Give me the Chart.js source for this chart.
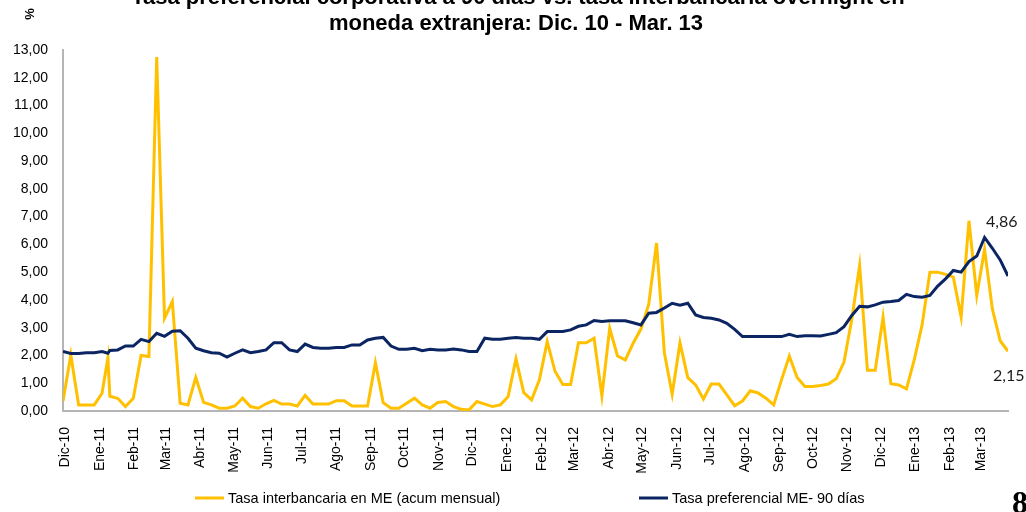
<!DOCTYPE html>
<html>
<head>
<meta charset="utf-8">
<script src="https://cdn.jsdelivr.net/npm/chart.js@4.4.1/dist/chart.umd.min.js"></script>
<style>
  html, body { margin: 0; padding: 0; background: #fff; overflow: hidden; }
  #wrap { position: relative; width: 1026px; height: 512px; }
</style>
</head>
<body>
<div id="wrap"><canvas id="grafico" width="1026" height="512"></canvas></div>
<script>
// --- Datos (semanales, dic-2010 a mar-2013) ---
const titulo1 = "Tasa preferencial corporativa a 90 días vs. tasa interbancaria overnight en";
const titulo2 = "moneda extranjera: Dic. 10 - Mar. 13";

const meses = ["Dic-10","Ene-11","Feb-11","Mar-11","Abr-11","May-11","Jun-11","Jul-11","Ago-11","Sep-11",
  "Oct-11","Nov-11","Dic-11","Ene-12","Feb-12","Mar-12","Abr-12","May-12","Jun-12","Jul-12",
  "Ago-12","Sep-12","Oct-12","Nov-12","Dic-12","Ene-13","Feb-13","Mar-13"];

// indice de semana de cada observacion (hay un dato extra a mitad de la 6a semana)
const semanas = [];
for (let i = 0; i <= 121; i++) {
  semanas.push(i);
  if (i === 5) semanas.push(5.75);
}

const tasaInterbancaria = [
  0.35, 2.02, 0.22, 0.22, 0.22, 0.64, 1.92, 0.53, 0.46, 0.16,
  0.46, 2.00, 1.96, 12.75, 3.34, 3.94, 0.28, 0.22, 1.21, 0.31,
  0.22, 0.10, 0.10, 0.18, 0.46, 0.16, 0.10, 0.26, 0.38, 0.25,
  0.25, 0.18, 0.56, 0.25, 0.25, 0.25, 0.37, 0.37, 0.18, 0.18,
  0.18, 1.74, 0.30, 0.10, 0.10, 0.28, 0.46, 0.22, 0.10, 0.31,
  0.34, 0.16, 0.06, 0.04, 0.34, 0.25, 0.16, 0.22, 0.52, 1.88,
  0.66, 0.40, 1.12, 2.50, 1.43, 0.95, 0.95, 2.46, 2.46, 2.62,
  0.54, 2.98, 1.98, 1.84, 2.44, 2.95, 3.85, 6.05, 2.10, 0.60,
  2.45, 1.20, 0.94, 0.43, 0.97, 0.97, 0.58, 0.19, 0.36, 0.73,
  0.65, 0.46, 0.22, 1.12, 1.98, 1.21, 0.88, 0.88, 0.92, 0.97,
  1.16, 1.76, 3.30, 5.24, 1.47, 1.47, 3.38, 0.98, 0.94, 0.80,
  1.85, 3.10, 5.00, 5.00, 4.92, 4.82, 3.38, 6.85, 4.16, 5.82,
  3.67, 2.53, 2.15
];

const tasaPreferencial = [
  2.14, 2.07, 2.07, 2.10, 2.10, 2.14, 2.08, 2.18, 2.20, 2.34,
  2.34, 2.58, 2.50, 2.80, 2.69, 2.87, 2.89, 2.62, 2.26, 2.17,
  2.10, 2.08, 1.94, 2.08, 2.20, 2.10, 2.14, 2.20, 2.46, 2.46,
  2.20, 2.14, 2.41, 2.29, 2.26, 2.26, 2.29, 2.29, 2.38, 2.38,
  2.56, 2.62, 2.65, 2.34, 2.22, 2.22, 2.26, 2.17, 2.22, 2.20,
  2.20, 2.23, 2.20, 2.14, 2.14, 2.62, 2.58, 2.58, 2.62, 2.65,
  2.62, 2.62, 2.58, 2.86, 2.86, 2.86, 2.92, 3.05, 3.10, 3.26,
  3.22, 3.25, 3.25, 3.25, 3.18, 3.10, 3.52, 3.55, 3.71, 3.88,
  3.81, 3.88, 3.46, 3.37, 3.34, 3.28, 3.16, 2.94, 2.68, 2.68,
  2.68, 2.68, 2.68, 2.68, 2.76, 2.68, 2.71, 2.71, 2.70, 2.76,
  2.82, 3.04, 3.44, 3.77, 3.75, 3.82, 3.92, 3.94, 3.98, 4.20,
  4.12, 4.10, 4.16, 4.50, 4.76, 5.06, 5.00, 5.38, 5.58, 6.25,
  5.86, 5.44, 4.86
];

const nombreInter = "Tasa interbancaria en ME (acum mensual)";
const nombrePref = "Tasa preferencial ME- 90 días";
const AMARILLO = "#FFC000";
const AZUL = "#0B2563";

// posicion de cada etiqueta de mes en unidades de semana
function posMes(i) {
  const dias = (Date.UTC(2010, 11 + i, 1) - Date.UTC(2010, 11, 1)) / 864e5;
  return 0.3 + dias / 7;
}

const aPuntos = serie => semanas.map((x, i) => ({ x: x, y: serie[i] }));

// --- Textos extra: titulo, %, leyenda, etiquetas finales, n° de pagina ---
const decoracion = {
  id: "decoracion",
  afterDraw(chart) {
    const ctx = chart.ctx;
    const xs = chart.scales.x, ys = chart.scales.y;
    ctx.save();
    ctx.fillStyle = "#000";
    ctx.textAlign = "center";
    ctx.textBaseline = "alphabetic";
    ctx.font = 'bold 22px "Liberation Sans", Arial, sans-serif';
    ctx.fillText(titulo1, 518, 4);
    ctx.fillText(titulo2, 516, 30);

    // "%" vertical
    ctx.save();
    ctx.translate(30, 14);
    ctx.rotate(-Math.PI / 2);
    ctx.font = 'bold 13px "Liberation Sans", Arial, sans-serif';
    ctx.textBaseline = "middle";
    ctx.fillText("%", 0, 0);
    ctx.restore();

    // leyenda
    ctx.lineWidth = 3;
    ctx.strokeStyle = AMARILLO;
    ctx.beginPath(); ctx.moveTo(195, 498); ctx.lineTo(224, 498); ctx.stroke();
    ctx.strokeStyle = AZUL;
    ctx.beginPath(); ctx.moveTo(639, 498); ctx.lineTo(668, 498); ctx.stroke();
    ctx.font = '14.5px "Liberation Sans", Arial, sans-serif';
    ctx.textAlign = "left";
    ctx.textBaseline = "middle";
    ctx.fillStyle = "#000";
    ctx.fillText(nombreInter, 228, 499);
    ctx.fillText(nombrePref, 672, 499);

    // etiquetas de los ultimos valores
    const ult = semanas.length - 1;
    const xUlt = xs.getPixelForValue(semanas[ult]);
    ctx.font = '16px Lato, "Open Sans", sans-serif';
    ctx.fillStyle = "#1a1a1a";
    ctx.fillText(String(tasaPreferencial[ult].toFixed(2)).replace(".", ","), xUlt - 22, ys.getPixelForValue(6.8));
    ctx.fillText(String(tasaInterbancaria[ult].toFixed(2)).replace(".", ","), xUlt - 15, ys.getPixelForValue(1.25));

    // numero de pagina (cortado)
    ctx.font = 'bold 32px "Liberation Serif", serif';
    ctx.textBaseline = "alphabetic";
    ctx.fillStyle = "#000";
    ctx.fillText("8", 1012, 513);
    ctx.restore();
  }
};

const ctx = document.getElementById("grafico").getContext("2d");
const chart = new Chart(ctx, {
  type: "line",
  data: {
    datasets: [
      {
        label: nombreInter,
        data: aPuntos(tasaInterbancaria),
        borderColor: AMARILLO,
        borderWidth: 3,
        pointRadius: 0,
        tension: 0,
        order: 2
      },
      {
        label: nombrePref,
        data: aPuntos(tasaPreferencial),
        borderColor: AZUL,
        borderWidth: 3,
        pointRadius: 0,
        tension: 0,
        order: 1
      }
    ]
  },
  options: {
    responsive: false,
    animation: false,
    layout: { padding: { top: 50, right: 18, left: 0, bottom: 0 } },
    plugins: {
      legend: { display: false },
      title: { display: false },
      tooltip: { enabled: false }
    },
    scales: {
      x: {
        type: "linear",
        min: 0,
        max: 121,
        grid: { display: false, drawTicks: false },
        border: { display: true, color: "#b5b5b5", width: 2 },
        afterBuildTicks: s => { s.ticks = meses.map((m, i) => ({ value: posMes(i) })); },
        afterFit: s => { s.height = 101; },
        ticks: {
          autoSkip: false,
          minRotation: 90,
          maxRotation: 90,
          padding: 16,
          color: "#000",
          font: { family: '"Liberation Sans", Arial, sans-serif', size: 14 },
          callback: (v, i) => meses[i]
        }
      },
      y: {
        min: 0,
        max: 13,
        grid: { display: false, drawTicks: false },
        border: { display: true, color: "#b5b5b5", width: 2 },
        afterFit: s => { s.width = 63; },
        ticks: {
          stepSize: 1,
          padding: 15,
          color: "#000",
          font: { family: '"Liberation Sans", Arial, sans-serif', size: 14 },
          callback: v => v.toFixed(2).replace(".", ",")
        }
      }
    }
  },
  plugins: [decoracion]
});
</script>
</body>
</html>
